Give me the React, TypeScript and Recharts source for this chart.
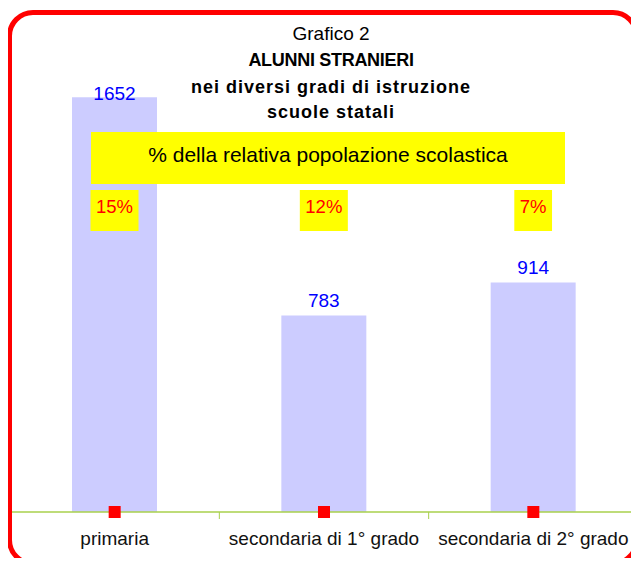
import React from "react"
import { ComposedChart, Bar, Line, XAxis, YAxis, LabelList } from "recharts"

const categories = ["primaria", "secondaria di 1° grado", "secondaria di 2° grado"]
const alunni = [1652, 783, 914]
const percentuali = [15, 12, 7]
const base = [0, 0, 0]

const data = categories.map((name, i) => ({
  name,
  alunni: alunni[i],
  pct: percentuali[i],
  base: base[i],
}))

const W = 639
const H = 566
const MARGIN = { top: 60, right: 1, bottom: 0, left: 10 }
const BAND = (W - MARGIN.left - MARGIN.right) / categories.length
const FONT = "Arial, 'Liberation Sans', sans-serif"
const AXIS_COLOR = "#A8D04C"
const TICK_SIZE = 7
const TICK_MARGIN = 13

const CategoryTick = (props: any) => {
  const { x, y, payload, index } = props
  const lineX = x + BAND / 2
  return (
    <g>
      <text x={x} y={y + 13} textAnchor="middle" fontSize={19} fontFamily={FONT} fill="#111">
        {payload.value}
      </text>
      {index < categories.length - 1 && (
        <line
          x1={lineX}
          x2={lineX}
          y1={y - TICK_MARGIN - TICK_SIZE}
          y2={y - TICK_MARGIN}
          stroke={AXIS_COLOR}
          strokeWidth={1}
        />
      )}
    </g>
  )
}

const ValueLabel = (props: any) => {
  const vb = props.viewBox ?? props
  const { x, y, width } = vb
  // excel pushes the tallest label down inside the plot area
  const ty = Math.max(y - 8, MARGIN.top + 40)
  return (
    <text x={x + width / 2} y={ty} textAnchor="middle" fontSize={19} fontFamily={FONT} fill="#0000FF">
      {props.value}
    </text>
  )
}

const PctLabel = (props: any) => {
  const vb = props.viewBox ?? props
  const { x, width } = vb
  const txt = `${props.value}%`
  const digits = String(props.value).length
  const boxW = 11 + digits * 0.556 * 18.5 + 0.889 * 18.5
  const cx = x + width / 2
  const top = MARGIN.top + 130
  return (
    <g>
      <rect x={cx - boxW / 2} y={top} width={boxW} height={41} fill="#FFFF00" />
      <text x={cx} y={top + 23} textAnchor="middle" fontSize={18.5} fontFamily={FONT} fill="#FF0000">
        {txt}
      </text>
    </g>
  )
}

const SquareDot = (props: any) => {
  const { cx, cy, index } = props
  return <rect key={`sq-${index}`} x={cx - 6} y={cy - 6} width={12} height={12} fill="#FF0000" />
}

const titleLine = (top: number, size: number, bold: boolean, spacing: number): React.CSSProperties => ({
  position: "absolute",
  left: 11,
  top,
  width: 640,
  textAlign: "center",
  fontFamily: FONT,
  fontSize: size,
  lineHeight: `${size}px`,
  fontWeight: bold ? "bold" : "normal",
  letterSpacing: spacing,
  color: "#000",
  whiteSpace: "nowrap",
})

export default function App() {
  return (
    <div style={{ position: "relative", width: W, height: H, margin: -8, background: "#fff" }}>
      <div style={{ position: "absolute", left: 0, top: 0 }}>
        <ComposedChart width={W} height={H} data={data} margin={MARGIN}>
          <XAxis
            dataKey="name"
            height={H - 512}
            interval={0}
            axisLine={{ stroke: AXIS_COLOR, strokeWidth: 1.5 }}
            tickLine={false}
            tickSize={TICK_SIZE}
            tickMargin={TICK_MARGIN}
            tick={<CategoryTick />}
          />
          <YAxis hide domain={[0, 1800]} />
          <Bar dataKey="alunni" fill="#CCCCFF" barSize={85} isAnimationActive={false}>
            <LabelList dataKey="alunni" content={<ValueLabel />} />
            <LabelList dataKey="pct" content={<PctLabel />} />
          </Bar>
          <Line
            dataKey="base"
            stroke="none"
            dot={<SquareDot />}
            activeDot={false}
            isAnimationActive={false}
          />
        </ComposedChart>
      </div>

      <div style={titleLine(24, 19, false, 0)}>Grafico 2</div>
      <div style={titleLine(51, 18, true, -0.3)}>ALUNNI STRANIERI</div>
      <div style={titleLine(78, 18, true, 1)}>nei diversi gradi di istruzione</div>
      <div style={titleLine(103, 18, true, 1)}>scuole statali</div>

      <div
        style={{
          position: "absolute",
          left: 91,
          top: 132,
          width: 474,
          height: 52,
          boxSizing: "border-box",
          paddingTop: 12,
          background: "#FFFF00",
          textAlign: "center",
          fontFamily: FONT,
          fontSize: 21,
          lineHeight: "21px",
          color: "#000",
          whiteSpace: "nowrap",
        }}
      >
        % della relativa popolazione scolastica
      </div>

      <div
        style={{
          position: "absolute",
          left: 7,
          top: 10,
          width: 632,
          height: 556,
          boxSizing: "border-box",
          border: "5px solid #FF0000",
          borderRadius: 26,
        }}
      />
    </div>
  )
}
